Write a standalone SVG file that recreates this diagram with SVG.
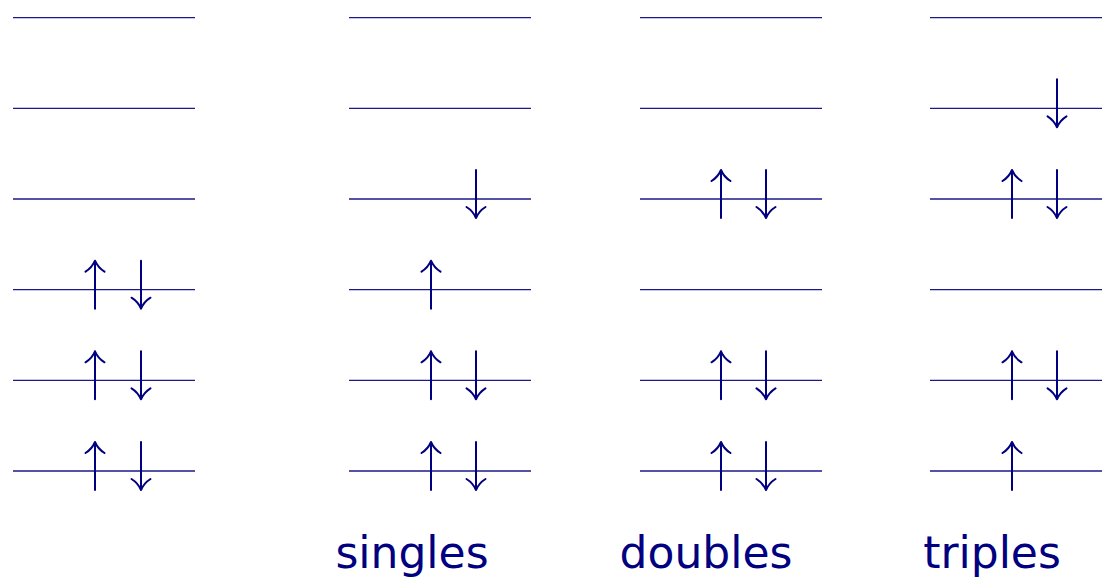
<svg xmlns="http://www.w3.org/2000/svg" width="1102" height="578" viewBox="0 0 1102 578">
<defs>
<style>
.lv{stroke:#1a1a8c;stroke-width:1.3;fill:none}
.ar{stroke:#000080;stroke-width:2;fill:none;stroke-linecap:round;stroke-linejoin:round}
.lb{font-family:"DejaVu Sans","Liberation Sans",sans-serif;font-size:44px;fill:#000080;text-anchor:middle}
</style>
<g id="up"><path class="ar" d="M0 -29 V19 M-9.5 -18 Q-3 -22 0 -29 Q3 -22 9.5 -18"/></g>
<g id="dn"><path class="ar" d="M0 -29 V19 M-9.5 8 Q-3 12 0 19 Q3 12 9.5 8"/></g>
</defs>
<rect width="1102" height="578" fill="#fff"/>
<g id="col1">
<path class="lv" d="M13 17.7H195M13 108.3H195M13 199H195M13 289.7H195M13 380.3H195M13 471H195"/>
<use href="#up" x="95" y="289.7"/><use href="#dn" x="141" y="289.7"/>
<use href="#up" x="95" y="380.3"/><use href="#dn" x="141" y="380.3"/>
<use href="#up" x="95" y="471"/><use href="#dn" x="141" y="471"/>
</g>
<g id="col2">
<path class="lv" d="M349 17.7H531M349 108.3H531M349 199H531M349 289.7H531M349 380.3H531M349 471H531"/>
<use href="#dn" x="476" y="199"/>
<use href="#up" x="431" y="289.7"/>
<use href="#up" x="431" y="380.3"/><use href="#dn" x="476" y="380.3"/>
<use href="#up" x="431" y="471"/><use href="#dn" x="476" y="471"/>
<text class="lb" x="412" y="568">singles</text>
</g>
<g id="col3">
<path class="lv" d="M640 17.7H822M640 108.3H822M640 199H822M640 289.7H822M640 380.3H822M640 471H822"/>
<use href="#up" x="721" y="199"/><use href="#dn" x="766" y="199"/>
<use href="#up" x="721" y="380.3"/><use href="#dn" x="766" y="380.3"/>
<use href="#up" x="721" y="471"/><use href="#dn" x="766" y="471"/>
<text class="lb" x="706" y="568">doubles</text>
</g>
<g id="col4">
<path class="lv" d="M930 17.7H1112M930 108.3H1112M930 199H1112M930 289.7H1112M930 380.3H1112M930 471H1112"/>
<use href="#dn" x="1057" y="108.3"/>
<use href="#up" x="1012" y="199"/><use href="#dn" x="1057" y="199"/>
<use href="#up" x="1012" y="380.3"/><use href="#dn" x="1057" y="380.3"/>
<use href="#up" x="1012" y="471"/>
<text class="lb" x="992" y="568">triples</text>
</g>
</svg>
